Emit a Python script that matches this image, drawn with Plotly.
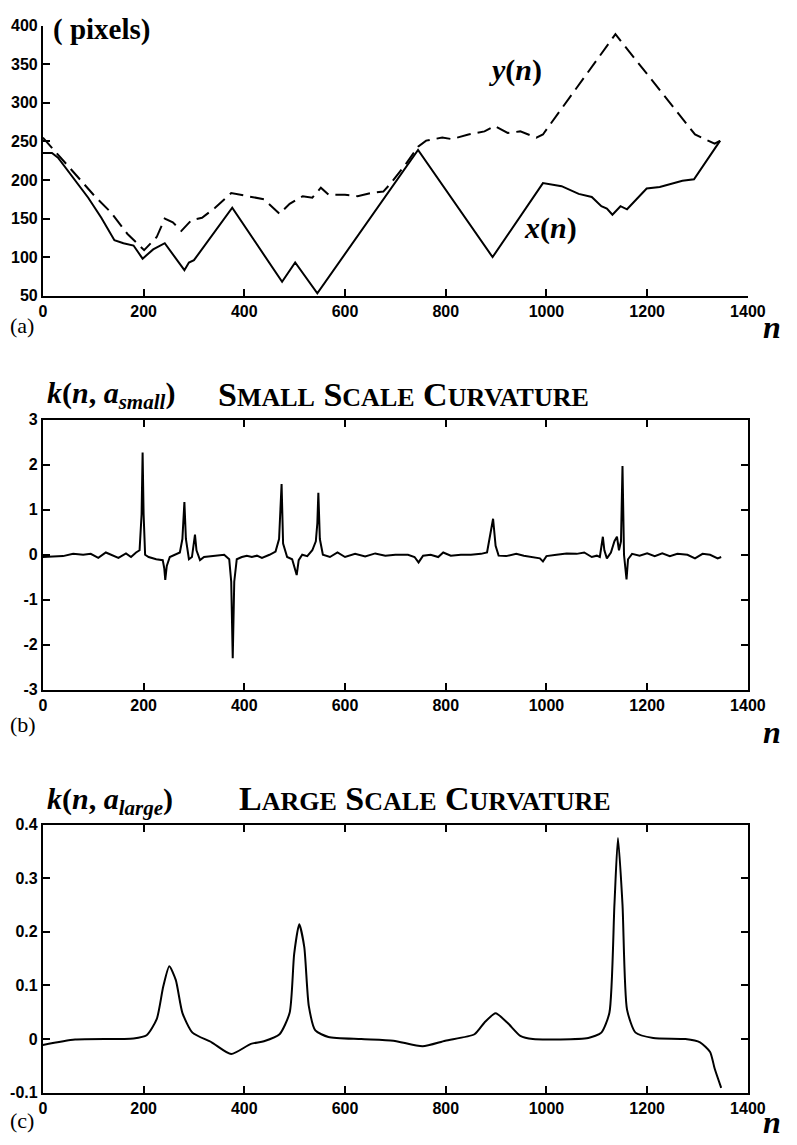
import plotly.graph_objects as go

W, H = 797, 1145

# ---------------- Panel (a): contour coordinates ----------------
XN_N = [0, 18, 30, 60, 90, 116, 142, 160, 180, 198, 219, 242, 281, 290, 300, 376,
        475, 501, 545, 745, 893, 993, 1030, 1064, 1090, 1109, 1120, 1131, 1140,
        1147, 1160, 1180, 1199, 1225, 1251, 1270, 1293, 1345]
XN_V = [235, 235, 229, 203, 177, 151, 122, 118, 115, 98, 110, 118, 83, 93, 96, 164,
        68, 93, 53, 239, 100, 196, 192, 182, 178, 166, 163, 155, 162,
        166, 162, 176, 189, 191, 196, 199, 201, 251]

YN_N = [0, 40, 71, 103, 135, 168, 201, 226, 242, 258, 275, 295, 316, 342, 374,
        390, 413, 439, 470, 490, 516, 535, 552, 567, 600, 625, 651, 676, 690, 720,
        745, 761, 793, 812, 845, 877, 897, 923, 948, 980, 993, 1137, 1295, 1334, 1345]
YN_V = [255, 225, 202, 179, 158, 130, 109, 126, 150, 145, 134, 148, 151, 164, 183,
        181, 179, 175, 156, 169, 179, 177, 190, 181, 181, 179, 183, 185, 195, 220,
        243, 251, 255, 253, 259, 263, 270, 261, 263, 255, 259, 389, 259, 247, 251]

# ---------------- Panel (b): small scale curvature ----------------
KS_N = [0, 20, 40, 60, 80, 95, 110, 125, 140, 150, 165, 175, 185, 192, 196, 198, 200,
        203, 210, 225, 238, 241, 243, 246, 252, 262, 272, 277, 281, 284, 290, 296,
        300, 302, 305, 312, 320, 340, 360, 370, 374, 377, 380, 385, 395, 405, 415,
        425, 435, 450, 462, 469, 472, 474, 477, 485, 495, 501, 504, 508, 515, 525,
        535, 542, 545, 547, 550, 556, 570, 585, 600, 620, 640, 660, 680, 700, 725,
        738, 746, 755, 770, 785, 795, 810, 830, 850, 870, 882, 888, 894, 899, 905,
        920, 940, 955, 975, 987, 993, 1000, 1020, 1040, 1060, 1075, 1090, 1100,
        1106, 1110, 1112, 1115, 1120, 1128, 1135, 1140, 1144, 1148, 1151, 1154,
        1157, 1159, 1162, 1170, 1185, 1200, 1215, 1230, 1245, 1260, 1280, 1295,
        1310, 1325, 1340, 1347]
KS_V = [-0.05, -0.04, -0.03, 0.02, 0.0, 0.02, -0.07, 0.05, -0.03, -0.07, 0.03, -0.05,
        0.05, 0.1, 0.9, 2.27, 0.9, 0.0, -0.05, -0.1, -0.12, -0.3, -0.56, -0.25, -0.05,
        0.0, 0.05, 0.35, 1.17, 0.35, -0.1, -0.05, 0.3, 0.45, 0.1, -0.12, -0.05, -0.03,
        0.0, -0.1, -0.6, -2.3, -0.6, -0.1, -0.05, -0.02, -0.05, -0.02, -0.07, 0.0,
        0.07, 0.35, 1.0, 1.57, 0.25, -0.05, -0.1, -0.3, -0.45, -0.12, 0.0, -0.03,
        0.1, 0.3, 0.7, 1.38, 0.35, 0.0, -0.05, 0.05, -0.05, 0.02, -0.04, 0.03,
        -0.02, 0.0, 0.0, -0.05, -0.17, -0.02, 0.0, -0.05, 0.05, -0.02, 0.0, 0.0,
        0.02, 0.05, 0.4, 0.8, 0.2, -0.02, -0.03, 0.02, -0.02, -0.05, -0.08, -0.15,
        -0.03, 0.0, 0.03, 0.02, 0.05, -0.05, -0.02, -0.05, 0.2, 0.4, 0.1, -0.08,
        0.05, 0.3, 0.4, 0.1, 0.3, 1.97, 0.0, -0.4, -0.55, -0.1, 0.02, -0.02, 0.03,
        -0.03, 0.03, -0.03, 0.02, 0.0, -0.08, 0.02, 0.0, -0.08, -0.05]

# ---------------- Panel (c): large scale curvature ----------------
KL_N = [0, 64, 180, 206, 226, 239, 251, 264, 277, 297, 335, 374, 413, 439, 470,
        490, 499, 509, 519, 528, 541, 567, 632, 696, 754, 799, 857, 877, 899, 922,
        948, 973, 1083, 1109, 1125, 1135, 1142, 1151, 1160, 1177, 1212, 1276, 1305,
        1325, 1334, 1347]
KL_V = [-0.011, -0.001, 0.001, 0.007, 0.037, 0.098, 0.136, 0.110, 0.049, 0.012,
        -0.006, -0.028, -0.009, -0.004, 0.009, 0.049, 0.159, 0.214, 0.172, 0.062,
        0.016, 0.004, 0.0, -0.003, -0.0134, -0.003, 0.009, 0.031, 0.048, 0.031,
        0.006, 0.0, 0.002, 0.012, 0.049, 0.251, 0.375, 0.251, 0.055, 0.012, 0.002,
        0.0, -0.006, -0.024, -0.055, -0.091]

XTICKS = [0, 200, 400, 600, 800, 1000, 1200, 1400]
YTICKS_A = [50, 100, 150, 200, 250, 300, 350, 400]
YTICKS_B = [-3, -2, -1, 0, 1, 2, 3]
YTICKS_C = [-0.1, 0, 0.1, 0.2, 0.3, 0.4]
YTEXT_C = ["-0.1", "0", "0.1", "0.2", "0.3", "0.4"]
YTEXT_B = ["-3", "-2", "-1", "0", "1", "2", "3"]


def px(x):
    return x / W


def py(y):
    return 1 - y / H


fig = go.Figure()
fig.add_trace(go.Scatter(x=XN_N, y=XN_V, mode="lines", xaxis="x", yaxis="y",
                         line=dict(color="black", width=2)))
fig.add_trace(go.Scatter(x=YN_N, y=YN_V, mode="lines", xaxis="x", yaxis="y",
                         line=dict(color="black", width=2, dash="14px,7px")))
fig.add_trace(go.Scatter(x=KS_N, y=KS_V, mode="lines", xaxis="x2", yaxis="y2",
                         line=dict(color="black", width=2)))
fig.add_trace(go.Scatter(x=KL_N, y=KL_V, mode="lines", xaxis="x3", yaxis="y3",
                         line=dict(color="black", width=2, shape="spline", smoothing=0.6)))

tickfont = dict(family="Liberation Sans", size=16, color="black", weight="bold")
xdom = [px(40), px(765)]


def xax(anchor, mirror):
    return dict(domain=xdom, anchor=anchor, range=[0, 1400], tickvals=XTICKS,
                showline=True, linecolor="black", linewidth=2, mirror=mirror,
                ticks="inside", ticklen=7, tickwidth=2, tickcolor="black",
                showgrid=False, zeroline=False, tickfont=tickfont)


def yax(anchor, dom, rng, vals, text, mirror):
    d = dict(domain=dom, anchor=anchor, range=rng, tickvals=vals,
             showline=True, linecolor="black", linewidth=2, mirror=mirror,
             ticks="inside", ticklen=7, tickwidth=2, tickcolor="black",
             showgrid=False, zeroline=False, tickfont=tickfont)
    if text is not None:
        d["ticktext"] = text
    return d


serif = "Liberation Serif"
ann = []


def add(text, x, y, size, xanchor="left"):
    ann.append(dict(text=text, x=px(x), y=py(y), xref="paper", yref="paper",
                    xanchor=xanchor, yanchor="middle", showarrow=False,
                    font=dict(family=serif, size=size, color="black")))


add("<b>( pixels)</b>", 48, 22, 29)
add("<b><i>y</i>(<i>n</i>)</b>", 526, 63, 30, "center")
add("<b><i>x</i>(<i>n</i>)</b>", 562, 223, 30, "center")
add("(a)", 4, 322, 22)
add("<b><i>n</i></b>", 790, 324, 32, "center")

small = "font-size:26px"
add("<b><i>k</i>(<i>n</i>, <i>a<sub>small</sub></i>)</b>", 42, 393, 30)
add("<b>S<span style='%s'>MALL</span> S<span style='%s'>CALE</span> C<span style='%s'>URVATURE</span></b>"
    % (small, small, small), 218, 392, 34)
add("(b)", 4, 727, 22)
add("<b><i>n</i></b>", 790, 735, 32, "center")

add("<b><i>k</i>(<i>n</i>, <i>a<sub>large</sub></i>)</b>", 42, 805, 30)
add("<b>L<span style='%s'>ARGE</span> S<span style='%s'>CALE</span> C<span style='%s'>URVATURE</span></b>"
    % (small, small, small), 240, 802, 34)
add("(c)", 4, 1129, 22)
add("<b><i>n</i></b>", 790, 1131, 32, "center")

fig.update_layout(
    width=W, height=H, autosize=False,
    margin=dict(l=0, r=0, t=0, b=0),
    paper_bgcolor="white", plot_bgcolor="white",
    showlegend=False,
    xaxis=xax("y", False),
    yaxis=yax("x", [py(292), py(18)], [50, 400], YTICKS_A, None, False),
    xaxis2=xax("y2", "ticks"),
    yaxis2=yax("x2", [py(692), py(418)], [-3, 3], YTICKS_B, YTEXT_B, "ticks"),
    xaxis3=xax("y3", "ticks"),
    yaxis3=yax("x3", [py(1101), py(829)], [-0.1, 0.4], YTICKS_C, YTEXT_C, "ticks"),
    annotations=ann,
)

fig.write_html(
    "out.html",
    config={"displayModeBar": False},
    post_script="document.body.style.margin='0px';document.documentElement.style.overflow='hidden';",
)
